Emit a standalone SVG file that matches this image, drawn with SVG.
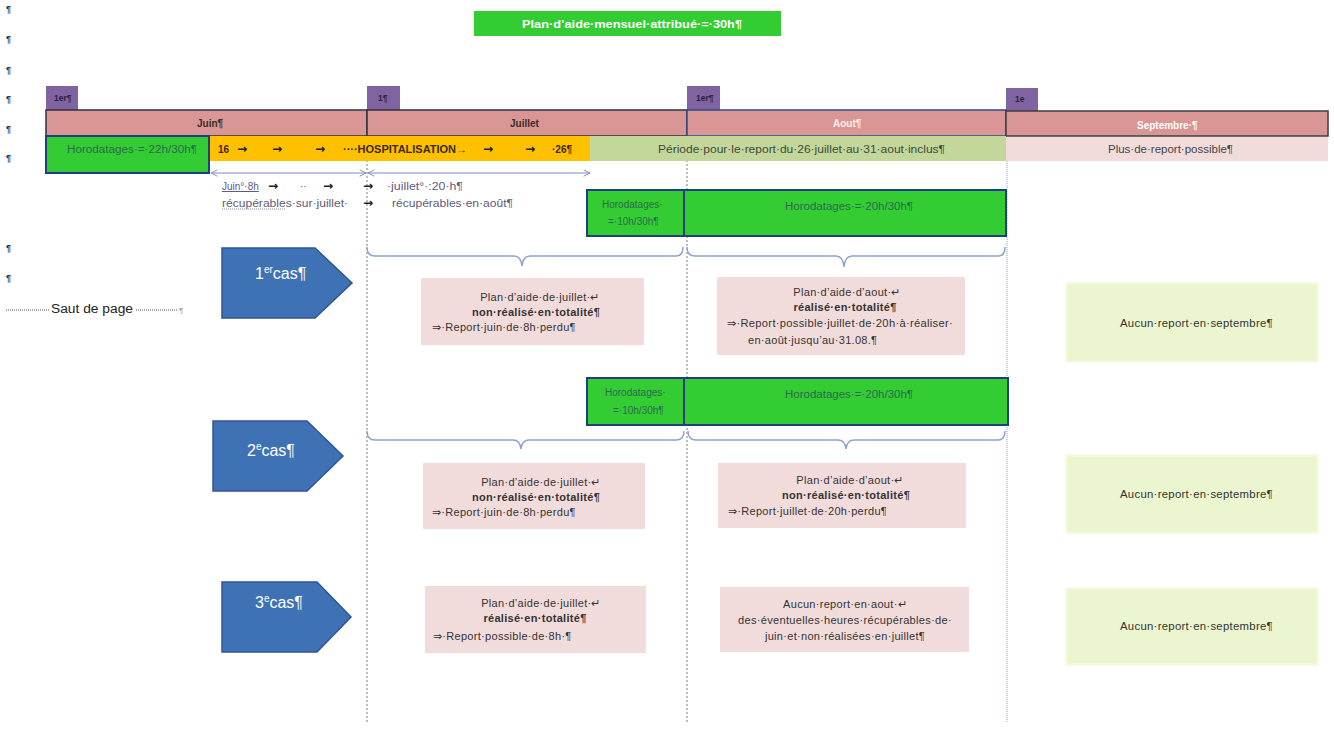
<svg xmlns="http://www.w3.org/2000/svg" width="1334" height="742" viewBox="0 0 1334 742">
<style>
  text { font-family: "Liberation Sans", Arial, sans-serif; }
  .pil { font-size: 9px; font-weight: bold; fill: #333; }
  .tab { fill: #8064a2; }
  .tabt { font-size: 8.5px; font-weight: bold; fill: #2a2340; }
  .hdr { fill: #d99694; stroke-width: 1.5; }
  .hdrt { font-size: 10px; font-weight: bold; }
  .grn { fill: #33cc33; stroke: #1f3f80; stroke-width: 2; }
  .grnt { font-size: 10px; fill: #2c6b4c; }
  .pink { fill: #f2dcdb; }
  .pt { font-size: 11px; fill: #333; letter-spacing: 0.3px; }
  .pb { font-size: 11px; font-weight: bold; fill: #333; letter-spacing: 0.3px; }
  .lime { fill: #ebf5cf; }
  .cas { fill: #3f72b5; stroke: #2f5597; stroke-width: 1.5; }
  .cast { font-size: 16px; fill: #ffffff; }
  .note { font-size: 10px; fill: #5f5a80; }
  .tabarrow { font-family: "DejaVu Sans", sans-serif; font-size: 12px; font-weight: bold; fill: #222; }
  .vdash { stroke: #7a7a7a; stroke-width: 1; stroke-dasharray: 2 2; fill: none; }
  .vblue { stroke: #8ea0c8; stroke-width: 1; stroke-dasharray: 1 1; fill: none; }
  .brace { stroke: #8fa3cf; stroke-width: 1.5; fill: none; }
  .span { stroke: #7f8fb5; stroke-width: 1.2; fill: none; }
</style>
<defs>
  <marker id="open-head" viewBox="0 0 10 10" refX="9" refY="5" markerWidth="8" markerHeight="8" orient="auto-start-reverse" markerUnits="userSpaceOnUse">
    <path d="M1,1 L9,5 L1,9" fill="none" stroke="#7f8fb5" stroke-width="1.2"/>
  </marker>
  <filter id="soft" x="-5%" y="-10%" width="110%" height="120%">
    <feGaussianBlur stdDeviation="1.5"/>
  </filter>
</defs>

<rect width="1334" height="742" fill="#ffffff"/>

<!-- paragraph marks down the left margin -->
<g id="margin-marks">
  <text class="pil" x="6" y="12">¶</text>
  <text class="pil" x="6" y="42">¶</text>
  <text class="pil" x="6" y="73">¶</text>
  <text class="pil" x="6" y="102">¶</text>
  <text class="pil" x="6" y="132">¶</text>
  <text class="pil" x="6" y="161">¶</text>
  <text class="pil" x="6" y="251">¶</text>
  <text class="pil" x="6" y="281">¶</text>
</g>

<!-- page break marker -->
<g id="page-break">
  <line x1="6" y1="310" x2="49" y2="310" stroke="#555" stroke-width="1" stroke-dasharray="1 1"/>
  <text x="51" y="313" font-size="12" fill="#222" textLength="82" lengthAdjust="spacingAndGlyphs">Saut de page</text>
  <line x1="136" y1="310" x2="178" y2="310" stroke="#555" stroke-width="1" stroke-dasharray="1 1"/>
  <text x="179" y="313" font-size="8" fill="#999">¶</text>
</g>

<!-- title -->
<g id="title">
  <rect x="474" y="11" width="307" height="25" fill="#33cc33"/>
  <text x="522" y="28" font-size="11.5" font-weight="bold" fill="#ffffff" textLength="220" lengthAdjust="spacingAndGlyphs">Plan·d’aide·mensuel·attribué·=·30h¶</text>
</g>

<!-- connectors: month separators, spans and braces -->
<g id="connectors">
  <line class="vdash" x1="367" y1="136" x2="367" y2="722"/>
  <line class="vdash" x1="687" y1="136" x2="687" y2="722"/>
  <line class="vblue" x1="1007" y1="161" x2="1007" y2="722"/>
  <line class="span" x1="211" y1="173" x2="366" y2="173" marker-start="url(#open-head)" marker-end="url(#open-head)"/>
  <line class="span" x1="368" y1="173" x2="590" y2="173" marker-start="url(#open-head)" marker-end="url(#open-head)"/>
  <path class="brace" d="M367,247 Q367,256 375,256 H514 Q521,256 522,266 Q523,256 530,256 H676 Q683,256 683,247"/>
  <path class="brace" d="M687,247 Q687,256 695,256 H836 Q843,256 844,267 Q845,256 852,256 H998 Q1005,256 1005,247"/>
  <path class="brace" d="M367,431 Q367,440 375,440 H513 Q520,440 521,449 Q522,440 529,440 H676 Q684,440 684,431"/>
  <path class="brace" d="M688,431 Q688,440 696,440 H838 Q845,440 846,449 Q847,440 854,440 H998 Q1005,440 1005,431"/>
</g>

<!-- first-of-month tabs -->
<g id="tab-juin"><rect class="tab" x="46" y="86" width="32" height="24"/><text class="tabt" x="54" y="101">1er¶</text></g>
<g id="tab-juillet"><rect class="tab" x="367" y="86" width="33" height="24"/><text class="tabt" x="378" y="101">1¶</text></g>
<g id="tab-aout"><rect class="tab" x="687" y="86" width="33" height="24"/><text class="tabt" x="696" y="101">1er¶</text></g>
<g id="tab-septembre"><rect class="tab" x="1006" y="88" width="32" height="23"/><text class="tabt" x="1015" y="102" fill="#fff">1e</text></g>

<!-- month header bar -->
<g id="month-juin"><rect class="hdr" x="46" y="110" width="321" height="26" stroke="#2d3340"/><text class="hdrt" x="197" y="127" fill="#3a2a2a">Juin¶</text></g>
<g id="month-juillet"><rect class="hdr" x="367" y="110" width="320" height="26" stroke="#2d3340"/><text class="hdrt" x="510" y="127" fill="#3a2a2a">Juillet</text></g>
<g id="month-aout"><rect class="hdr" x="687" y="110" width="319" height="26" stroke="#2e4b8a"/><text class="hdrt" x="833" y="127" fill="#fbeeee">Aout¶</text></g>
<g id="month-septembre"><rect class="hdr" x="1006" y="111" width="322" height="25" stroke="#3a3f40"/><text class="hdrt" x="1137" y="129" fill="#ffffff">Septembre·¶</text></g>

<!-- second row: June hours, hospitalisation, carry-over period -->
<g id="hospitalisation">
  <rect x="209" y="136" width="381" height="25" fill="#ffc000"/>
  <text x="218" y="153" font-size="10" font-weight="bold" fill="#3a2a10">16</text>
  <text class="tabarrow" x="237" y="153">→</text>
  <text class="tabarrow" x="272" y="153">→</text>
  <text class="tabarrow" x="315" y="153">→</text>
  <text x="343" y="153" font-size="10" font-weight="bold" fill="#3a2a10" textLength="124" lengthAdjust="spacingAndGlyphs">····HOSPITALISATION→</text>
  <text class="tabarrow" x="483" y="153">→</text>
  <text class="tabarrow" x="525" y="153">→</text>
  <text x="552" y="153" font-size="10" font-weight="bold" fill="#3a2a10">·26¶</text>
</g>
<g id="horodatage-juin">
  <rect class="grn" x="46" y="136" width="163" height="37"/>
  <text class="grnt" x="67" y="153" textLength="130" lengthAdjust="spacingAndGlyphs">Horodatages·=·22h/30h¶</text>
</g>
<g id="periode-report">
  <rect x="590" y="136" width="416" height="25" fill="#c4d79b"/>
  <text x="658" y="153" font-size="10" fill="#3c4a3a" textLength="287" lengthAdjust="spacingAndGlyphs">Période·pour·le·report·du·26·juillet·au·31·aout·inclus¶</text>
</g>
<g id="plus-de-report">
  <rect x="1006" y="137" width="322" height="24" fill="#f2dcdb"/>
  <text x="1108" y="153" font-size="10" fill="#444" textLength="125" lengthAdjust="spacingAndGlyphs">Plus·de·report·possible¶</text>
</g>

<!-- recoverable hours notes -->
<g id="note-juin">
  <text class="note" x="222" y="190" text-decoration="underline">Juin°·8h</text>
  <text class="tabarrow" x="268" y="190">→</text>
  <text class="note" x="300" y="190">··</text>
  <text class="tabarrow" x="323" y="190">→</text>
  <text class="tabarrow" x="363" y="190">→</text>
  <text class="note" x="222" y="207" textLength="126" lengthAdjust="spacingAndGlyphs">récupérables·sur·juillet·</text>
  <line x1="222" y1="209" x2="285" y2="209" stroke="#8a86a8" stroke-width="1" stroke-dasharray="1 1"/>
  <text class="tabarrow" x="363" y="207">→</text>
</g>
<g id="note-juillet">
  <text class="note" x="387" y="190" textLength="76" lengthAdjust="spacingAndGlyphs">·juillet°·:20·h¶</text>
  <text class="note" x="392" y="207" textLength="121" lengthAdjust="spacingAndGlyphs">récupérables·en·août¶</text>
</g>

<!-- case 1 -->
<g id="cas-1">
  <path class="cas" d="M222,248 H315 L352,283 L315,318 H222 Z"/>
  <text class="cast" x="255" y="279">1<tspan font-size="10" dy="-6">er</tspan><tspan dy="6">cas¶</tspan></text>
</g>
<g id="cas1-horodatage-juillet">
  <rect class="grn" x="587" y="190" width="97" height="46"/>
  <text class="grnt" x="602" y="208">Horodatages·</text>
  <text class="grnt" x="608" y="225">=·10h/30h¶</text>
</g>
<g id="cas1-horodatage-aout">
  <rect class="grn" x="684" y="190" width="322" height="46"/>
  <text class="grnt" x="785" y="210" textLength="128" lengthAdjust="spacingAndGlyphs">Horodatages·=·20h/30h¶</text>
</g>
<g id="cas1-juillet">
  <rect class="pink" x="421" y="278" width="223" height="67"/>
  <text class="pt" x="540" y="301" text-anchor="middle">Plan·d’aide·de·juillet·↵</text>
  <text class="pb" x="536" y="316" text-anchor="middle">non·réalisé·en·totalité¶</text>
  <text class="pt" x="432" y="331">⇒·Report·juin·de·8h·perdu¶</text>
</g>
<g id="cas1-aout">
  <rect class="pink" x="717" y="277" width="248" height="78"/>
  <text class="pt" x="847" y="296" text-anchor="middle">Plan·d’aide·d’aout·↵</text>
  <text class="pb" x="845" y="311" text-anchor="middle">réalisé·en·totalité¶</text>
  <text class="pt" x="727" y="327" textLength="226" lengthAdjust="spacingAndGlyphs">⇒·Report·possible·juillet·de·20h·à·réaliser·</text>
  <text class="pt" x="748" y="344">en·août·jusqu’au·31.08.¶</text>
</g>
<g id="cas1-septembre">
  <rect class="lime" x="1066" y="283" width="252" height="79" filter="url(#soft)"/>
  <text class="pt" x="1120" y="327" textLength="153" lengthAdjust="spacingAndGlyphs">Aucun·report·en·septembre¶</text>
</g>

<!-- case 2 -->
<g id="cas-2">
  <path class="cas" d="M213,421 H307 L343,456 L307,491 H213 Z"/>
  <text class="cast" x="247" y="456">2<tspan font-size="10" dy="-6">e</tspan><tspan dy="6">cas¶</tspan></text>
</g>
<g id="cas2-horodatage-juillet">
  <rect class="grn" x="587" y="378" width="97" height="47"/>
  <text class="grnt" x="605" y="396">Horodatages·</text>
  <text class="grnt" x="613" y="414">=·10h/30h¶</text>
</g>
<g id="cas2-horodatage-aout">
  <rect class="grn" x="684" y="378" width="324" height="47"/>
  <text class="grnt" x="785" y="398" textLength="128" lengthAdjust="spacingAndGlyphs">Horodatages·=·20h/30h¶</text>
</g>
<g id="cas2-juillet">
  <rect class="pink" x="423" y="463" width="222" height="66"/>
  <text class="pt" x="541" y="486" text-anchor="middle">Plan·d’aide·de·juillet·↵</text>
  <text class="pb" x="536" y="501" text-anchor="middle">non·réalisé·en·totalité¶</text>
  <text class="pt" x="432" y="516">⇒·Report·juin·de·8h·perdu¶</text>
</g>
<g id="cas2-aout">
  <rect class="pink" x="718" y="463" width="248" height="65"/>
  <text class="pt" x="850" y="484" text-anchor="middle">Plan·d’aide·d’aout·↵</text>
  <text class="pb" x="846" y="499" text-anchor="middle">non·réalisé·en·totalité¶</text>
  <text class="pt" x="728" y="515">⇒·Report·juillet·de·20h·perdu¶</text>
</g>
<g id="cas2-septembre">
  <rect class="lime" x="1066" y="455" width="252" height="78" filter="url(#soft)"/>
  <text class="pt" x="1120" y="498" textLength="153" lengthAdjust="spacingAndGlyphs">Aucun·report·en·septembre¶</text>
</g>

<!-- case 3 -->
<g id="cas-3">
  <path class="cas" d="M222,582 H317 L351,617 L317,652 H222 Z"/>
  <text class="cast" x="255" y="608">3<tspan font-size="10" dy="-6">e</tspan><tspan dy="6">cas¶</tspan></text>
</g>
<g id="cas3-juillet">
  <rect class="pink" x="425" y="586" width="221" height="67"/>
  <text class="pt" x="541" y="607" text-anchor="middle">Plan·d’aide·de·juillet·↵</text>
  <text class="pb" x="535" y="622" text-anchor="middle">réalisé·en·totalité¶</text>
  <text class="pt" x="433" y="640">⇒·Report·possible·de·8h·¶</text>
</g>
<g id="cas3-aout">
  <rect class="pink" x="720" y="587" width="249" height="65"/>
  <text class="pt" x="845" y="608" text-anchor="middle">Aucun·report·en·aout·↵</text>
  <text class="pt" x="845" y="624" text-anchor="middle" textLength="214" lengthAdjust="spacingAndGlyphs">des·éventuelles·heures·récupérables·de·</text>
  <text class="pt" x="845" y="640" text-anchor="middle">juin·et·non·réalisées·en·juillet¶</text>
</g>
<g id="cas3-septembre">
  <rect class="lime" x="1066" y="588" width="252" height="77" filter="url(#soft)"/>
  <text class="pt" x="1120" y="630" textLength="153" lengthAdjust="spacingAndGlyphs">Aucun·report·en·septembre¶</text>
</g>
</svg>
